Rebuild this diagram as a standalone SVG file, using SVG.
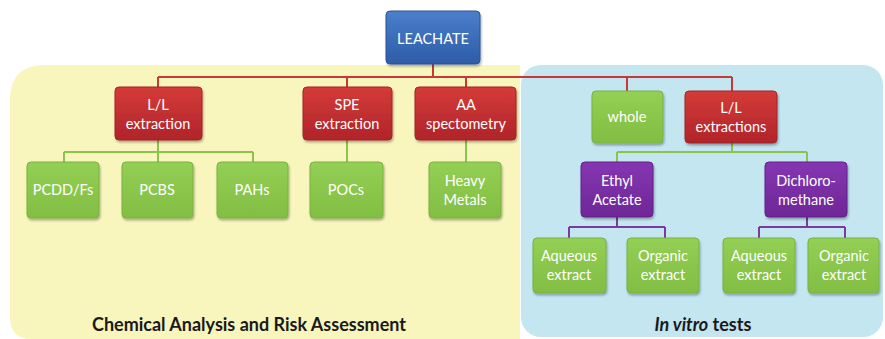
<svg xmlns="http://www.w3.org/2000/svg" width="885" height="339" viewBox="0 0 885 339">
  <defs>
    <linearGradient id="gBlue" x1="0" y1="0" x2="0" y2="1">
      <stop offset="0" stop-color="#4a7fcc"/>
      <stop offset="1" stop-color="#2e5ca6"/>
    </linearGradient>
    <linearGradient id="gRed" x1="0" y1="0" x2="0" y2="1">
      <stop offset="0" stop-color="#d43b38"/>
      <stop offset="1" stop-color="#b0242a"/>
    </linearGradient>
    <linearGradient id="gGreen" x1="0" y1="0" x2="0" y2="1">
      <stop offset="0" stop-color="#94cf55"/>
      <stop offset="1" stop-color="#82be43"/>
    </linearGradient>
    <linearGradient id="gPurple" x1="0" y1="0" x2="0" y2="1">
      <stop offset="0" stop-color="#8536b2"/>
      <stop offset="1" stop-color="#6e2796"/>
    </linearGradient>
    <filter id="shadow" x="-10%" y="-10%" width="125%" height="130%">
      <feDropShadow dx="1" dy="2" stdDeviation="1.2" flood-color="#000" flood-opacity="0.3"/>
    </filter>
  </defs>
  <style>
    .box { stroke-width: 1; filter: url(#shadow); }
    .blue { fill: url(#gBlue); stroke: #2a5598; }
    .red { fill: url(#gRed); stroke: #a52328; }
    .green { fill: url(#gGreen); stroke: #78b33c; }
    .purple { fill: url(#gPurple); stroke: #62208a; }
    .lbl { font-family: Lato, "Open Sans", "Liberation Sans", sans-serif; font-size: 14.5px; fill: #ffffff; text-anchor: middle; }
    .title { font-family: Lato, "Open Sans", "Liberation Sans", sans-serif; font-size: 18px; font-weight: bold; fill: #1a1a1a; text-anchor: middle; }
    .cr { fill: none; stroke: #c8383a; stroke-width: 2; }
    .cg { fill: none; stroke: #8cc34a; stroke-width: 2; }
    .cp { fill: none; stroke: #7a3aa0; stroke-width: 2; }
  </style>

  <rect width="885" height="339" fill="#ffffff"/>

  <!-- background panels -->
  <g id="panel-chemical">
    <path d="M10,317 V100 Q10,65 45,65 H520 V339 H32 Q10,339 10,317 Z" fill="#f8f5bd"/>
    <text class="title" x="249" y="331">Chemical Analysis and Risk Assessment</text>
  </g>
  <g id="panel-invitro">
    <rect x="521" y="65" width="362" height="272" rx="20" fill="#c3e6f1"/>
    <text class="title" x="703" y="331"><tspan font-style="italic">In vitro</tspan> tests</text>
  </g>

  <!-- connectors -->
  <g id="connectors">
    <path class="cr" d="M433,64 V77 M158,77 H732 M158,77 V87 M347,77 V87 M466,77 V87 M627,77 V91 M732,77 V91"/>
    <path class="cg" d="M158,140 V152 M64,152 H253 M64,152 V162 M158,152 V162 M253,152 V162 M347,140 V162 M466,140 V162"/>
    <path class="cg" d="M732,143 V152 M617,152 H807 M617,152 V162 M807,152 V162"/>
    <path class="cp" d="M617,217 V227 M569,227 H665 M569,227 V238 M665,227 V238"/>
    <path class="cp" d="M807,217 V227 M759,227 H845 M759,227 V238 M845,227 V238"/>
  </g>

  <!-- nodes -->
  <g id="leachate">
    <rect class="box blue" x="386" y="11" width="94" height="53" rx="4"/>
    <text class="lbl" x="433" y="44" font-size="16.5">LEACHATE</text>
  </g>

  <g id="ll-extraction">
    <rect class="box red" x="115" y="87" width="87" height="53" rx="4"/>
    <text class="lbl" x="158" y="110">L/L</text>
    <text class="lbl" x="158" y="129">extraction</text>
  </g>
  <g id="spe-extraction">
    <rect class="box red" x="303" y="87" width="89" height="53" rx="4"/>
    <text class="lbl" x="347" y="110">SPE</text>
    <text class="lbl" x="347" y="129">extraction</text>
  </g>
  <g id="aa-spectometry">
    <rect class="box red" x="415" y="87" width="101" height="53" rx="4"/>
    <text class="lbl" x="466" y="110">AA</text>
    <text class="lbl" x="466" y="129">spectometry</text>
  </g>
  <g id="whole">
    <rect class="box green" x="592" y="91" width="71" height="52" rx="4"/>
    <text class="lbl" x="627" y="122">whole</text>
  </g>
  <g id="ll-extractions">
    <rect class="box red" x="685" y="91" width="92" height="52" rx="4"/>
    <text class="lbl" x="731" y="113">L/L</text>
    <text class="lbl" x="731" y="132">extractions</text>
  </g>

  <g id="pcdd-fs">
    <rect class="box green" x="27" y="162" width="72" height="56" rx="4"/>
    <text class="lbl" x="63" y="195">PCDD/Fs</text>
  </g>
  <g id="pcbs">
    <rect class="box green" x="122" y="162" width="71" height="56" rx="4"/>
    <text class="lbl" x="157" y="195">PCBS</text>
  </g>
  <g id="pahs">
    <rect class="box green" x="217" y="162" width="71" height="56" rx="4"/>
    <text class="lbl" x="252" y="195">PAHs</text>
  </g>
  <g id="pocs">
    <rect class="box green" x="310" y="162" width="73" height="56" rx="4"/>
    <text class="lbl" x="346" y="195">POCs</text>
  </g>
  <g id="heavy-metals">
    <rect class="box green" x="429" y="162" width="72" height="56" rx="4"/>
    <text class="lbl" x="465" y="186">Heavy</text>
    <text class="lbl" x="465" y="205">Metals</text>
  </g>

  <g id="ethyl-acetate">
    <rect class="box purple" x="581" y="162" width="72" height="55" rx="4"/>
    <text class="lbl" x="617" y="186">Ethyl</text>
    <text class="lbl" x="617" y="205">Acetate</text>
  </g>
  <g id="dichloromethane">
    <rect class="box purple" x="765" y="162" width="82" height="55" rx="4"/>
    <text class="lbl" x="806" y="186">Dichloro-</text>
    <text class="lbl" x="806" y="205">methane</text>
  </g>

  <g id="aqueous-extract-1">
    <rect class="box green" x="533" y="238" width="73" height="55" rx="4"/>
    <text class="lbl" x="569" y="261">Aqueous</text>
    <text class="lbl" x="569" y="280">extract</text>
  </g>
  <g id="organic-extract-1">
    <rect class="box green" x="627" y="238" width="72" height="55" rx="4"/>
    <text class="lbl" x="663" y="261">Organic</text>
    <text class="lbl" x="663" y="280">extract</text>
  </g>
  <g id="aqueous-extract-2">
    <rect class="box green" x="723" y="238" width="72" height="55" rx="4"/>
    <text class="lbl" x="759" y="261">Aqueous</text>
    <text class="lbl" x="759" y="280">extract</text>
  </g>
  <g id="organic-extract-2">
    <rect class="box green" x="808" y="238" width="71" height="55" rx="4"/>
    <text class="lbl" x="844" y="261">Organic</text>
    <text class="lbl" x="844" y="280">extract</text>
  </g>
</svg>
